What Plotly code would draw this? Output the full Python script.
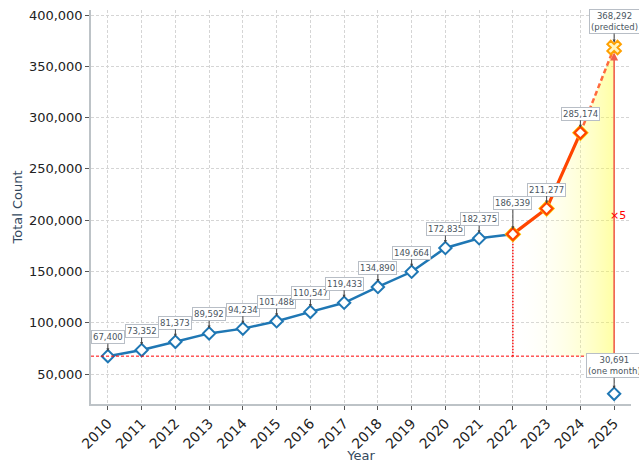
import plotly.graph_objects as go

years = list(range(2010, 2025))
counts = [67400, 73352, 81373, 89592, 94234, 101488, 110547, 119433,
          134890, 149664, 172835, 182375, 186339, 211277, 285174]
partial_year = 2025
partial_count = 30691
pred_year = 2025
pred_count = 368292
growth_start = 2022
x_ticks = list(range(2010, 2026))

blue = "#1f77b4"
orange = "#FF4500"
font = "DejaVu Sans"

fig = go.Figure()

gi = years.index(growth_start)
gx = years[gi:]
gy = counts[gi:]

# gradient fill between baseline and curve
fx = gx + [pred_year, pred_year, growth_start]
fy = gy + [pred_count, counts[0], counts[0]]
fig.add_trace(go.Scatter(
    x=fx, y=fy, mode="none", fill="toself",
    fillgradient=dict(type="horizontal",
                      colorscale=[[0, "rgba(255,255,255,0)"], [1, "rgba(255,255,40,0.42)"]]),
    hoverinfo="skip", showlegend=False))

# baseline dashed red line (full width)
fig.add_shape(type="line", xref="paper", x0=0, x1=1, yref="y",
              y0=counts[0], y1=counts[0],
              line=dict(color="red", width=1, dash="3px,2px"))
# vertical dotted at growth start
fig.add_trace(go.Scatter(x=[growth_start, growth_start], y=[counts[0], counts[gi]],
                         mode="lines", line=dict(color="red", width=1.4, dash="1.5px,1.5px"),
                         hoverinfo="skip", showlegend=False))
# vertical arrow at prediction year
fig.add_annotation(x=pred_year, y=pred_count, ax=pred_year, ay=counts[0],
                   xref="x", yref="y", axref="x", ayref="y", text="",
                   showarrow=True, arrowhead=2, arrowsize=1, arrowwidth=1.6,
                   arrowcolor="#F0604D", standoff=5)
fig.add_annotation(x=pred_year, y=205000, xref="x", yref="y", text="×5",
                   showarrow=False, xanchor="center", xshift=4,
                   font=dict(family=font, size=11, color="red"))

# blue history line
fig.add_trace(go.Scatter(
    x=years[:gi + 1], y=counts[:gi + 1], mode="lines+markers",
    line=dict(color=blue, width=2.5),
    marker=dict(symbol="diamond", size=9.5, color="white", line=dict(color=blue, width=2)),
    showlegend=False))

# predicted dashed segment
fig.add_trace(go.Scatter(
    x=[years[-1], pred_year], y=[counts[-1], pred_count], mode="lines",
    line=dict(color="#FF6A3D", width=2.5, dash="5px,3px"), showlegend=False))

# orange growth line with halo markers
fig.add_trace(go.Scatter(
    x=gx, y=gy, mode="lines", line=dict(color=orange, width=3.2), showlegend=False))
fig.add_trace(go.Scatter(
    x=gx, y=gy, mode="markers",
    marker=dict(symbol="diamond", size=13, color="#FFC400", line=dict(width=0)),
    showlegend=False))
fig.add_trace(go.Scatter(
    x=gx, y=gy, mode="markers",
    marker=dict(symbol="diamond", size=9, color="white", line=dict(color=orange, width=2.2)),
    showlegend=False))

# predicted marker
fig.add_trace(go.Scatter(
    x=[pred_year], y=[pred_count], mode="markers",
    marker=dict(symbol="x", size=12, color="#FFF6C0", line=dict(color="#FFA000", width=2)),
    showlegend=False))

# partial year marker
fig.add_trace(go.Scatter(
    x=[partial_year], y=[partial_count], mode="markers",
    marker=dict(symbol="diamond", size=9.5, color="white", line=dict(color=blue, width=2)),
    showlegend=False))

def label(x, y, text, ay=-19):
    fig.add_annotation(x=x, y=y, xref="x", yref="y", text=text, showarrow=True,
                       ax=0, ay=ay, arrowhead=2, arrowsize=0.6, arrowwidth=1,
                       arrowcolor="#444", standoff=5,
                       bgcolor="white", bordercolor="#B8BEC6", borderwidth=1, borderpad=1,
                       font=dict(family=font, size=8.5, color="#4A5560"))

for yr, c in zip(years, counts):
    label(yr, c, f"{c:,}", ay=-31 if yr == growth_start else -19)
label(pred_year, pred_count, f"{pred_count:,}<br>(predicted)", ay=-26)
label(partial_year, partial_count, f"{partial_count:,}<br>(one month)", ay=-28)

axis_common = dict(
    showline=True, linecolor="#BDC3C7", linewidth=1.5, mirror=False,
    showgrid=True, gridcolor="#D5D5D5", gridwidth=0.8, griddash="3px,2px",
    ticks="outside", ticklen=4, tickcolor="#555", zeroline=False, automargin=False,
)
fig.update_xaxes(**axis_common, range=[2009.5, 2025.5], tickmode="array",
                 tickvals=x_ticks, ticktext=[str(t) for t in x_ticks], tickangle=-45,
                 tickfont=dict(family=font, size=14, color="#222"),
                 title=dict(text="Year", font=dict(family=font, size=13, color="#34495E"),
                            standoff=6))
fig.update_yaxes(**axis_common, range=[20750, 404875], tickmode="array",
                 tickvals=list(range(50000, 400001, 50000)), tickformat=",",
                 tickfont=dict(family=font, size=13, color="#222"),
                 title=dict(text="Total Count", font=dict(family=font, size=13, color="#34495E"),
                            standoff=3))

fig.update_layout(width=639, height=463, margin=dict(l=91, r=8, t=10, b=59),
                  plot_bgcolor="white", paper_bgcolor="white", showlegend=False)

fig.write_html("out.html", config={"displayModeBar": False},
               post_script="document.body.style.margin='0';")
